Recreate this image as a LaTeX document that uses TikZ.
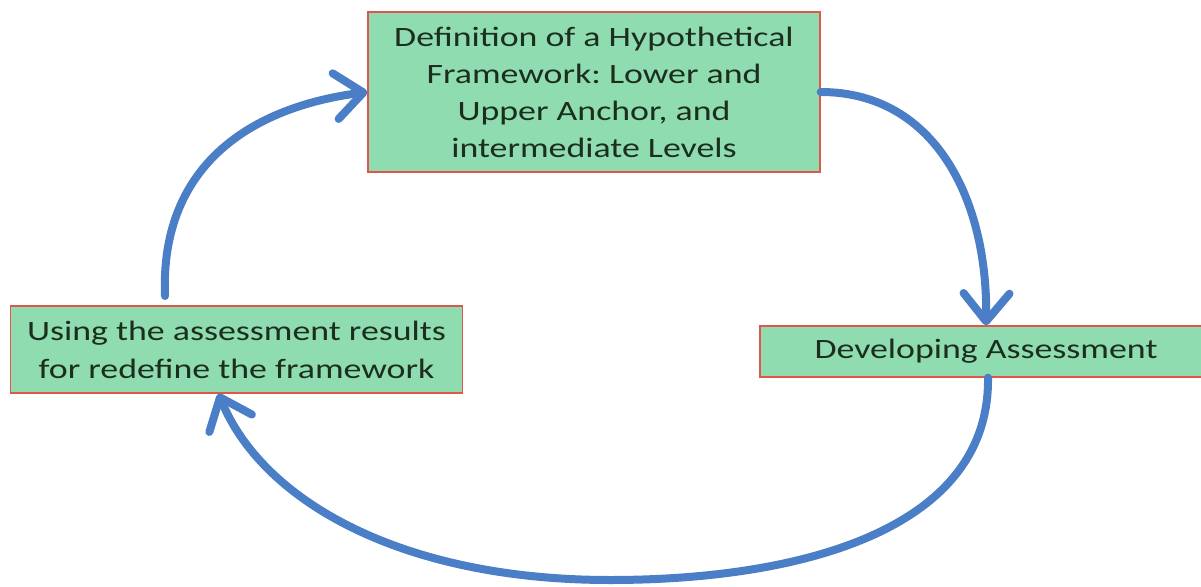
\documentclass[tikz,border=0pt]{standalone}
\usepackage{fontspec}
\setmainfont{Carlito}[FakeStretch=1.28]
\usetikzlibrary{arrows.meta}
\definecolor{boxfill}{HTML}{8FDCB0}
\definecolor{boxedge}{HTML}{E0564A}
\definecolor{flow}{HTML}{4A7EC6}
\definecolor{ink}{HTML}{1C2E1E}
\frenchspacing
\tikzset{
  stage/.style={draw=boxedge, line width=1.3pt, fill=boxfill, text=ink,
    minimum width=452pt, inner sep=0pt, align=center,
    font=\fontsize{28}{37}\selectfont},
  cycle/.style={draw=flow, line width=8pt, line cap=round,
    -{Straight Barb[length=28pt, width=46pt, line cap=round, line join=round]}}
}
\begin{document}
\begin{tikzpicture}[x=1pt, y=-1pt]
\useasboundingbox (0,0) rectangle (1201,586);
\node[stage, minimum height=160pt] (def) at (594,92)
  {Definition of a Hypothetical\\Framework: Lower and\\Upper Anchor, and\\intermediate Levels};
\node[stage, minimum height=51pt] (dev) at (986,351.5) {Developing Assessment};
\node[stage, minimum height=87pt, font=\fontsize{28}{38}\selectfont] (use) at (236.5,349.5)
  {Using the assessment results\\for redefine the framework};
\coordinate (usetop) at (165,296);
% definition -> developing
\draw[cycle] (def.east) .. controls (935,92) and (988,200) .. (dev.north);
% developing -> using (long loop underneath)
\draw[cycle] ([xshift=2pt]dev.south) .. controls (990,530) and (800,580) .. (610,580)
  .. controls (400,580) and (262,500) .. ([xshift=-18pt]use.south);
% using -> definition
\draw[cycle] (usetop) .. controls (160,170) and (245,108) .. (def.west);
\end{tikzpicture}
\end{document}
